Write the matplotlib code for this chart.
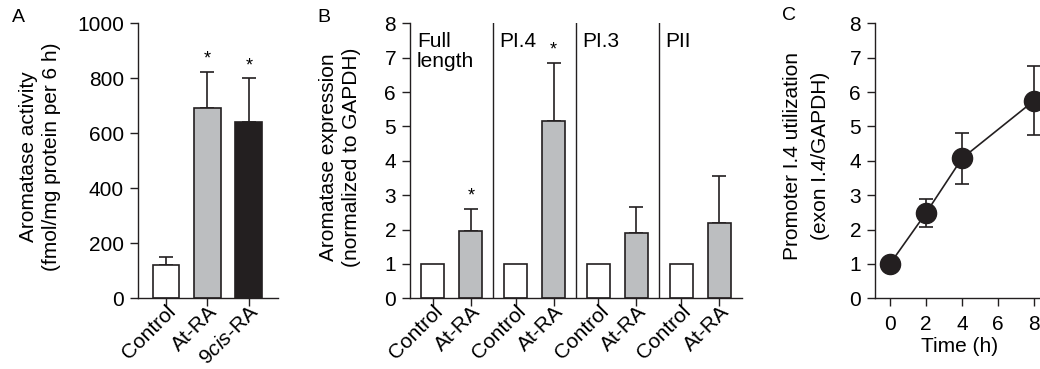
import numpy as np
import matplotlib
matplotlib.use('Agg')
import matplotlib.pyplot as plt
import matplotlib.transforms as mtransforms

plt.rcParams['font.family'] = ['Liberation Sans', 'DejaVu Sans']
plt.rcParams['mathtext.fontset'] = 'custom'
plt.rcParams['mathtext.rm'] = 'Liberation Sans'
plt.rcParams['mathtext.it'] = 'Liberation Sans:italic'

# panel A data
a_labels = ['Control', 'At-RA', '9$\\it{cis}$-RA']
a_values = [121, 693, 642]
a_err = [28, 131, 158]
a_colors = ['white', '#bcbec0', '#231f20']
a_star = [False, True, True]

# panel B data
b_groups = ['Full\nlength', 'PI.4', 'PI.3', 'PII']
b_control = [1, 1, 1, 1]
b_atra = [1.97, 5.15, 1.9, 2.2]
b_atra_err = [0.63, 1.7, 0.75, 1.35]
b_star = [True, True, False, False]
b_ticklabels = ['Control', 'At-RA'] * 4

# panel C data
c_time = [0, 2, 4, 8]
c_values = [1.0, 2.48, 4.07, 5.75]
c_err = [0.0, 0.41, 0.74, 1.0]

W, H = 1040, 369
fig = plt.figure(figsize=(W / 100, H / 100), dpi=100)
dark = '#231f20'
fs = 15

def px_axes(left, right, top=23.3, bottom=298.3):
    return fig.add_axes([left / W, 1 - bottom / H, (right - left) / W, (bottom - top) / H])

def style(ax):
    ax.spines['top'].set_visible(False)
    ax.spines['right'].set_visible(False)
    for s in ['left', 'bottom']:
        ax.spines[s].set_linewidth(1.0)
        ax.spines[s].set_color(dark)
    ax.tick_params(direction='out', length=6, width=1.0, labelsize=fs, pad=4, color=dark)

def rot_labels(ax, xs, labels):
    # slanted category labels, drawn as text so they can be nudged
    ax.set_xticks(xs)
    ax.set_xticklabels([])
    off = mtransforms.ScaledTranslation(7 / 100, -10 / 100, fig.dpi_scale_trans)
    for x, lab in zip(xs, labels):
        ax.text(x, 0, lab, transform=ax.get_xaxis_transform() + off, rotation=45,
                ha='right', va='center', rotation_mode='anchor', fontsize=fs, clip_on=False)

# ---- A
axA = px_axes(138, 278)
xa = np.arange(len(a_values))
axA.bar(xa, a_values, width=0.65, color=a_colors, edgecolor=dark, linewidth=1.2, zorder=2)
axA.errorbar(xa, a_values, yerr=[np.zeros(3), a_err], fmt='none', ecolor=dark,
             elinewidth=1.2, capsize=5, capthick=1.2, zorder=1)
for i in range(len(a_values)):
    if a_star[i]:
        axA.text(xa[i], a_values[i] + a_err[i] + 15, '*', ha='center', va='bottom', fontsize=13)
axA.set_xlim(-0.675, 2.7)
axA.set_ylim(0, 1000)
axA.set_yticks([0, 200, 400, 600, 800, 1000])
rot_labels(axA, xa, a_labels)
style(axA)
fig.text(40 / W, 1 - 157 / H, 'Aromatase activity\n(fmol/mg protein per 6 h)', rotation=90,
         ha='center', va='center', multialignment='center', fontsize=fs, linespacing=1.28)
fig.text(12 / W, 1 - 9 / H, 'A', fontsize=14, ha='left', va='top')

# ---- B
axB = px_axes(410, 742)
gstep = 2.18
xc = np.arange(4) * gstep
xr = xc + 1
axB.bar(xc, b_control, width=0.61, color='white', edgecolor=dark, linewidth=1.2, zorder=2)
axB.bar(xr, b_atra, width=0.61, color='#bcbec0', edgecolor=dark, linewidth=1.2, zorder=2)
axB.errorbar(xr, b_atra, yerr=[np.zeros(4), b_atra_err], fmt='none', ecolor=dark,
             elinewidth=1.2, capsize=5, capthick=1.2, zorder=1)
for i in range(4):
    if b_star[i]:
        axB.text(xr[i], b_atra[i] + b_atra_err[i] + 0.12, '*', ha='center', va='bottom', fontsize=13)
    if i > 0:
        axB.axvline(xc[i] - 0.59, color=dark, lw=1.0)
    axB.text(xc[i] - 0.42, 7.75, b_groups[i], ha='left', va='top', fontsize=fs, linespacing=1.1)
axB.set_xlim(-0.6, 8.14)
axB.set_ylim(0, 8)
axB.set_yticks(range(9))
ticks = np.sort(np.concatenate([xc, xr]))
rot_labels(axB, ticks, b_ticklabels)
style(axB)
fig.text(340 / W, 1 - 157 / H, 'Aromatase expression\n(normalized to GAPDH)', rotation=90,
         ha='center', va='center', multialignment='center', fontsize=fs, linespacing=1.28)
fig.text(317 / W, 1 - 9 / H, 'B', fontsize=14, ha='left', va='top')

# ---- C
axC = px_axes(875, 1040)
axC.errorbar(c_time, c_values, yerr=c_err, fmt='-o', color=dark, ms=14.5, lw=1.2,
             elinewidth=1.2, capsize=5, capthick=1.2, clip_on=False, zorder=3)
axC.set_xlim(-0.83, 8.33)
axC.set_ylim(0, 8)
axC.set_yticks(range(9))
axC.set_xticks([0, 2, 4, 6, 8])
style(axC)
axC.tick_params(axis='x', pad=6)
fig.text(806 / W, 1 - 156 / H, 'Promoter I.4 utilization\n(exon I.4/GAPDH)', rotation=90,
         ha='center', va='center', multialignment='center', fontsize=fs, linespacing=1.6)
fig.text(960 / W, 1 - 347 / H, 'Time (h)', ha='center', va='center', fontsize=fs)
fig.text(782 / W, 1 - 7 / H, 'C', fontsize=14, ha='left', va='top')

fig.savefig('out.png', dpi=100)
